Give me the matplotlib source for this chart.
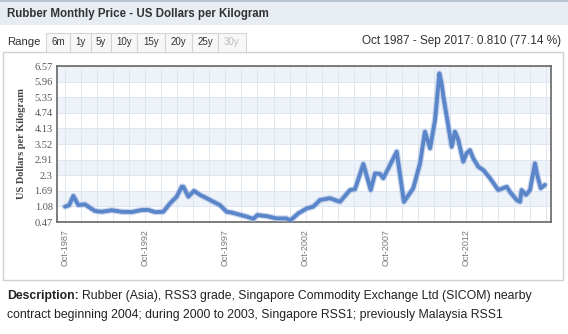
import numpy as np
import matplotlib.pyplot as plt
from matplotlib.patches import Rectangle

# decimal year, US$/kg
years = [1987.75, 1988.0, 1988.27, 1988.58, 1989.0, 1989.2, 1989.62, 1990.04, 1990.66,
         1991.28, 1991.91, 1992.53, 1992.94, 1993.36, 1993.88, 1994.30, 1994.71, 1995.03,
         1995.13, 1995.44, 1995.79, 1996.17, 1996.58, 1997.0, 1997.41, 1997.83, 1998.14,
         1998.55, 1999.08, 1999.49, 1999.74, 2000.32, 2000.95, 2001.57, 2001.78, 2002.30,
         2002.82, 2003.23, 2003.65, 2004.27, 2004.89, 2005.52, 2005.83, 2006.35, 2006.81,
         2007.08, 2007.39, 2007.59, 2007.91, 2008.43, 2008.88, 2009.46, 2009.88, 2010.19,
         2010.51, 2010.82, 2011.09, 2011.24, 2011.34, 2011.55, 2011.86, 2012.06, 2012.27,
         2012.58, 2012.79, 2013.0, 2013.2, 2013.52, 2013.83, 2014.25, 2014.76, 2015.29,
         2015.49, 2015.91, 2016.12, 2016.22, 2016.49, 2016.74, 2017.05, 2017.19, 2017.41,
         2017.67]
price = [1.07, 1.12, 1.49, 1.13, 1.16, 1.07, 0.90, 0.87, 0.93,
         0.87, 0.86, 0.94, 0.94, 0.86, 0.87, 1.20, 1.46, 1.85,
         1.85, 1.46, 1.69, 1.53, 1.40, 1.26, 1.13, 0.87, 0.84,
         0.77, 0.68, 0.59, 0.74, 0.70, 0.61, 0.61, 0.52, 0.81,
         1.00, 1.07, 1.33, 1.40, 1.26, 1.72, 1.75, 2.74, 1.72,
         2.37, 2.35, 2.18, 2.57, 3.22, 1.26, 1.79, 2.75, 4.00,
         3.35, 4.46, 6.28, 5.83, 5.37, 4.59, 3.41, 4.00, 3.68,
         2.83, 3.16, 3.28, 2.96, 2.63, 2.50, 2.18, 1.72, 1.85,
         1.65, 1.33, 1.26, 1.72, 1.53, 1.72, 2.76, 2.31, 1.79,
         1.92]

y_ticks = [0.47, 1.08, 1.69, 2.3, 2.91, 3.52, 4.13, 4.74, 5.35, 5.96, 6.57]
x_tick_years = [1987.75, 1992.75, 1997.75, 2002.75, 2007.75, 2012.75]
x_tick_labels = ["Oct-1987", "Oct-1992", "Oct-1997", "Oct-2002", "Oct-2007", "Oct-2012"]
ranges = ["6m", "1y", "5y", "10y", "15y", "20y", "25y", "30y"]

W, H = 568, 334
fig = plt.figure(figsize=(W / 100, H / 100), dpi=100)
fig.patch.set_facecolor("white")


def fx(x):
    return x / W


def fy(y):
    return 1 - y / H


def add_rect(x0, y0, x1, y1, **kw):
    fig.patches.append(Rectangle((fx(x0), fy(y1)), (x1 - x0) / W, (y1 - y0) / H,
                                 transform=fig.transFigure, zorder=0, **kw))


# header band
add_rect(0, 0, W, 25, facecolor="#e8edf4", edgecolor="none")
add_rect(0, 0, W, 1.5, facecolor="#b8c2cf", edgecolor="none")
fig.text(fx(7), fy(14), "Rubber Monthly Price - US Dollars per Kilogram", fontsize=8.3,
         fontweight="bold", color="#333333", va="center", family="Liberation Sans")

# container box
add_rect(3, 52, 563, 280, facecolor="white", edgecolor="#d0d0d0", lw=1)

# range buttons
fig.text(fx(7), fy(42), "Range", fontsize=8.2, color="#333333", va="center",
         family="Liberation Sans")
edges = [46, 70, 91, 111, 137, 165, 192, 218, 246]
for i, lab in enumerate(ranges):
    x0, x1 = edges[i], edges[i + 1]
    add_rect(x0, 33, x1, 52, facecolor="#f7f7f7", edgecolor="#d4d4d4", lw=0.8)
    fig.text(fx((x0 + x1) / 2), fy(42), lab, fontsize=7, ha="center", va="center",
             color="#bbbbbb" if lab == "30y" else "#333333", family="Liberation Sans")

fig.text(fx(561), fy(41), "Oct 1987 - Sep 2017: 0.810 (77.14 %)", fontsize=8.5,
         ha="right", va="center", color="#333333", family="Liberation Sans")

# plot area
ax = fig.add_axes([fx(57), fy(222), (551 - 57) / W, (222 - 66) / H])
ax.set_zorder(5)
ax.set_xlim(1987.25, 2018.05)
ax.set_ylim(0.47, 6.57)
for i in range(len(y_ticks) - 1):
    if i % 2 == 1:
        ax.axhspan(y_ticks[i], y_ticks[i + 1], color="#eef3fa", zorder=0, lw=0)
for yr in np.arange(1987.75, 2018.0, 1.0):
    ax.axvline(yr, color="#dfe6f0", lw=0.7, zorder=1)
for yv in y_ticks:
    ax.axhline(yv, color="#dfe6f0", lw=0.7, zorder=1)

ax.plot(years, price, color="#a9bfe4", lw=4.5, alpha=0.6, zorder=3,
        solid_joinstyle="round", solid_capstyle="round")
ax.plot(years, price, color="#5a86c9", lw=2.8, zorder=4,
        solid_joinstyle="round", solid_capstyle="round")

ax.set_yticks(y_ticks)
ax.set_yticklabels([str(v) for v in y_ticks], family="Liberation Serif", fontsize=7.5,
                   color="#555555")
ax.set_xticks(x_tick_years)
ax.set_xticklabels(x_tick_labels, rotation=90, fontsize=6.5, color="#777777",
                   family="Liberation Sans")
ax.tick_params(axis="both", length=0, pad=3)
ax.tick_params(axis="x", pad=5)
for s in ax.spines.values():
    s.set_color("#666666")
    s.set_linewidth(1.2)

fig.text(fx(22), fy(144), "US Dollars per Kilogram", rotation=90, fontsize=7.5,
         fontweight="bold", family="Liberation Serif", color="#444444",
         ha="center", va="center")

# description
lead = fig.text(fx(7), fy(296), "Description:", fontsize=8.8, fontweight="bold",
                color="#222222", va="center", family="Liberation Sans")
fig.canvas.draw()
bb = lead.get_window_extent()
fig.text(fx(bb.x1 + 3), fy(296),
         "Rubber (Asia), RSS3 grade, Singapore Commodity Exchange Ltd (SICOM) nearby",
         fontsize=8.8, color="#222222", va="center", family="Liberation Sans")
fig.text(fx(7), fy(315),
         "contract beginning 2004; during 2000 to 2003, Singapore RSS1; previously Malaysia RSS1",
         fontsize=8.8, color="#222222", va="center", family="Liberation Sans")

fig.savefig("out.png", dpi=100)
